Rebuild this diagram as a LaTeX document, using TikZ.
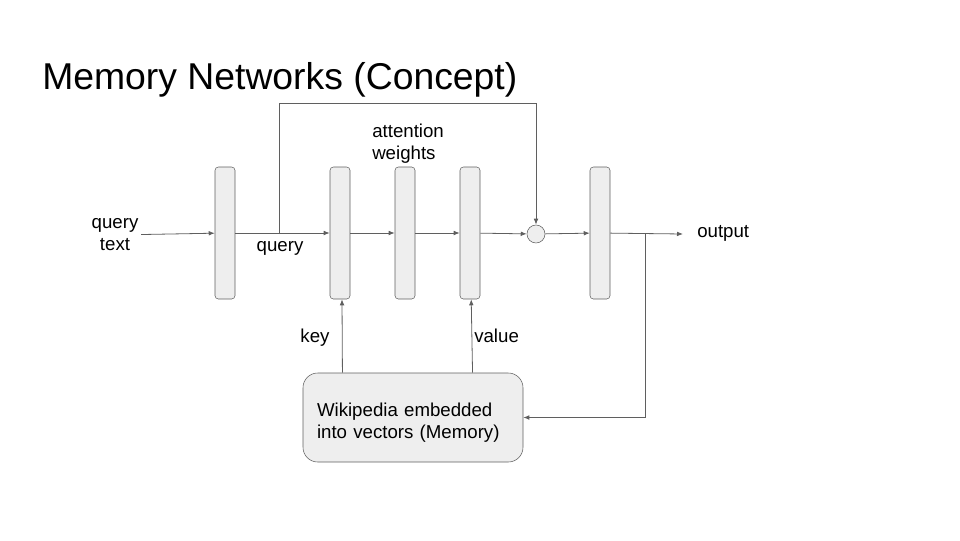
\documentclass[tikz,border=0pt]{standalone}
\usepackage{fontspec}
\setmainfont{Liberation Sans}
\usepackage{tikz}
\usetikzlibrary{positioning, calc, arrows.meta}
\definecolor{linegray}{HTML}{5F5F5F}
\definecolor{boxgray}{HTML}{EEEEEE}
\newcommand{\bodyfont}{\fontsize{14}{16.5}\selectfont}

\begin{document}
\begin{tikzpicture}[x=0.75pt,y=-0.75pt,
	layer/.style={draw=linegray, fill=boxgray, rounded corners=2.5pt, minimum width=15pt, minimum height=99pt, inner sep=0pt},
	mem/.style={draw=linegray, fill=boxgray, rounded corners=11pt, minimum height=66.75pt, text width=144pt, inner xsep=10.5pt, align=left, text depth=12pt, font=\bodyfont},
	link/.style={draw=linegray, line width=0.6pt, -{Latex[length=4.5pt,width=3.5pt]}},
	lbl/.style={font=\bodyfont, inner sep=0pt}]
			\useasboundingbox (0,0) rectangle (960,540);
			% title
			\node[anchor=base west, inner sep=0pt, font=\fontsize{28}{32}\selectfont] (title) at (42,89) {Memory Networks (Concept)};
			% layers of the network
			\node[layer] (l1) at (225,233) {};
			\node[layer] (l2) at (340,233) {};
			\node[layer] (l3) at (405,233) {};
			\node[layer] (l4) at (470,233) {};
			\node[circle, draw=linegray, fill=boxgray, minimum size=13.5pt, inner sep=0pt] (sum) at (536,234) {};
			\node[layer] (l5) at (600,233) {};
			% memory
			\node[mem] (memory) at (413,417.5) {Wikipedia embedded\\into vectors (Memory)};
			% labels
			\node[lbl, align=center, outer sep=2pt] (qtext) at (115,235) {query\\text};
			\node[lbl, anchor=base] (qlabel) at (280,251) {query};
			\node[lbl, align=left, anchor=west] (attn) at (372,144) {attention\\weights};
			\node[lbl, anchor=base west] (output) at (697,237) {output};
			\node[lbl, anchor=base] (key) at (315,342) {key};
			\node[lbl, anchor=base west] (value) at (474,342) {value};
			% connectors
			\coordinate (fork) at (279,234);
			\coordinate (loop) at (279,103);
			\coordinate (out) at (683,234);
			\coordinate (split) at (645,234);
			\draw[link] (qtext) -- (l1);
			\draw[link] (l1) -- (l2);
			\draw[link] (fork) -- (loop) -| (sum);
			\draw[link] (l2) -- (l3);
			\draw[link] (l3) -- (l4);
			\draw[link] (l4) -- (sum);
			\draw[link] (sum) -- (l5);
			\draw[link] (l5) -- (out);
			\draw[link] (split) |- (memory);
			\draw[link] ($(memory.north west)!0.18!(memory.north east)$) -- (l2.south -| 342,0);
			\draw[link] ($(memory.north west)!0.77!(memory.north east)$) -- (l4);
\end{tikzpicture}
\end{document}
